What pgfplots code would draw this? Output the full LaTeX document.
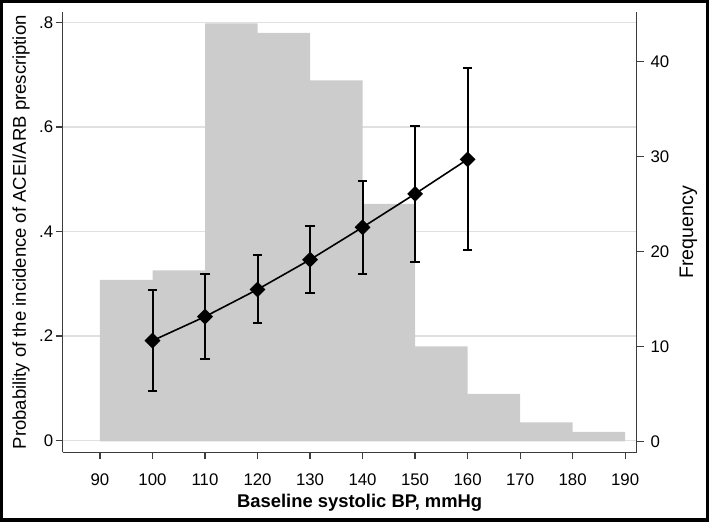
\documentclass[border=0pt]{standalone}
\usepackage{fontspec}
\setmainfont{Liberation Sans}
\usepackage{pgfplots}
\usepackage{pgfplotstable}
\pgfplotsset{compat=1.18}
\definecolor{histgray}{RGB}{204,204,204}
\definecolor{gridgray}{RGB}{224,224,224}
\definecolor{axisgray}{RGB}{60,60,60}

% histogram: bin start, frequency (last row closes the interval)
\pgfplotstableread{
x   f
90  17
100 18
110 44
120 43
130 38
140 25
150 10
160 5
170 2
180 1
190 1
}\histdata

% predicted probability with 95% CI half-width
\pgfplotstableread{
x   p     e
100 0.191 0.097
110 0.237 0.081
120 0.289 0.065
130 0.346 0.064
140 0.408 0.089
150 0.472 0.130
160 0.538 0.174
}\probdata

\pgfplotsset{
  common/.style={
    scale only axis, width=287pt, height=220.25pt,
    xmin=82.9, xmax=192.2,
    at={(0,0)}, anchor=south west,
    /pgf/number format/assume math mode=true,
    tick align=outside, major tick length=3.4pt,
    tick style={axisgray, line width=0.6pt},
    axis line style={axisgray, line width=0.7pt},
    ticklabel style={font=\fontsize{8.4}{9}\selectfont},
  },
  leftscale/.style={ymin=-0.023, ymax=0.82},
}

\begin{document}
\begin{tikzpicture}
% left axis: grid, ticks, labels
\begin{axis}[common, leftscale, name=ax,
    axis y line*=left, axis x line*=bottom,
    xtick={90,100,...,190},
    xticklabel style={yshift=-3.5pt},
    ytick={0,0.2,0.4,0.6,0.8},
    yticklabels={0,.2,.4,.6,.8},
    yticklabel style={inner xsep=1.2pt},
    ymajorgrids, grid style={gridgray, line width=0.6pt},
    xlabel={Baseline systolic BP, mmHg},
    xlabel style={at={(axis description cs:0.5,0)}, anchor=base,
        yshift=-27.4pt, xshift=5pt, inner sep=0pt,
        font=\fontsize{9.2}{10}\selectfont\bfseries},
    ylabel={Probability of the incidence of ACEI/ARB prescription},
    ylabel style={at={(axis description cs:0,0.5)}, anchor=base,
        yshift=18.4pt, inner sep=0pt,
        font=\fontsize{9.25}{10}\selectfont},
]
\addplot[draw=none, forget plot] coordinates {(100,0)};
\end{axis}

% right axis: frequency histogram
\begin{axis}[common,
    ymin=-1.158, ymax=45.21,
    axis y line*=right, axis x line=none,
    ytick={0,10,...,40},
    ylabel={Frequency},
    ylabel style={at={(axis description cs:1,0.5)}, anchor=base,
        yshift=-28.2pt, inner sep=0pt,
        font=\fontsize{9.8}{10}\selectfont},
]
\addplot[ybar interval, fill=histgray, draw=none] table[x=x, y=f] {\histdata};
\end{axis}

% left scale again: predicted probability with error bars
\begin{axis}[common, leftscale, hide axis]
\addplot[black, line width=0.8pt,
    mark=square*, mark size=2.4pt,
    mark options={rotate=45, solid, fill=black},
    error bars/.cd, y dir=both, y explicit,
    error bar style={black, line width=1pt},
    error mark options={black, mark size=2.4pt, line width=1pt, rotate=90}]
    table[x=x, y=p, y error=e] {\probdata};
\end{axis}

\draw[line width=1.75pt] ([shift={(-30.475pt,-33.875pt)}]ax.south west)
    rectangle ([shift={(35.275pt,5.125pt)}]ax.north east);
\end{tikzpicture}
\end{document}
